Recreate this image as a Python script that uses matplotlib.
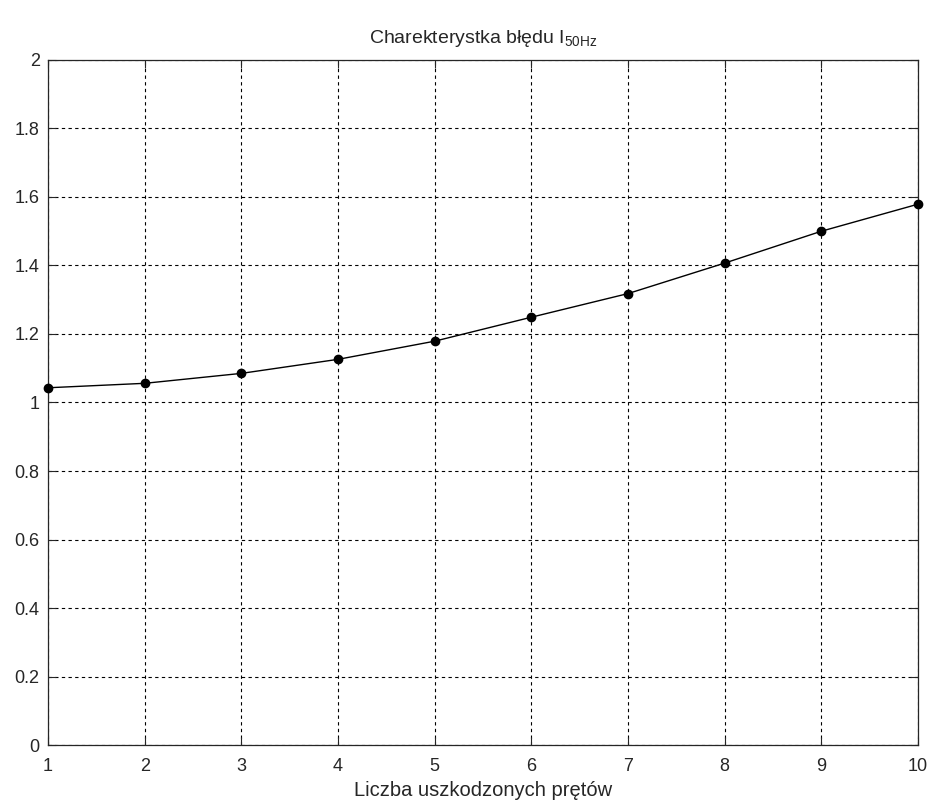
import numpy as np
import matplotlib
matplotlib.use('Agg')
import matplotlib.pyplot as plt

# fault characteristic: number of broken bars vs relative I_50Hz
bars = [1, 2, 3, 4, 5, 6, 7, 8, 9, 10]
i50 = [1.043, 1.056, 1.085, 1.126, 1.179, 1.249, 1.318, 1.407, 1.500, 1.579]
x_ticks = [1, 2, 3, 4, 5, 6, 7, 8, 9, 10]
y_ticks = [0, 0.2, 0.4, 0.6, 0.8, 1, 1.2, 1.4, 1.6, 1.8, 2]
y_labels = ['0', '0.2', '0.4', '0.6', '0.8', '1', '1.2', '1.4', '1.6', '1.8', '2']

def main():
    plt.rcParams['font.family'] = 'Liberation Sans'
    plt.rcParams['mathtext.fontset'] = 'custom'
    plt.rcParams['mathtext.rm'] = 'Liberation Sans'
    plt.rcParams['mathtext.default'] = 'rm'

    fig = plt.figure(figsize=(9.3, 8.05), dpi=100)
    ax = fig.add_axes([0.0516, 0.0745, 0.9355, 0.851])

    ax.plot(bars, i50, color='black', linewidth=1.0, marker='o',
            markersize=6, markerfacecolor='black', markeredgecolor='black',
            clip_on=False, zorder=3)

    ax.set_xlim(1, 10)
    ax.set_ylim(0, 2)
    ax.set_xticks(x_ticks)
    ax.set_yticks(y_ticks)
    ax.set_yticklabels(y_labels)
    ax.tick_params(direction='in', top=True, right=True, length=6,
                   labelsize=13, colors='#262626', width=0.8)
    ax.tick_params(axis='x', pad=9)
    ax.tick_params(axis='y', pad=6)

    ax.grid(True, color='black', linestyle=(0, (3, 3)), linewidth=0.8)
    for s in ax.spines.values():
        s.set_linewidth(0.9)
        s.set_color('#262626')

    ax.set_xlabel('Liczba uszkodzonych prętów', fontsize=14.5, color='#262626', labelpad=5)
    ax.set_title(r'Charekterystka błędu I$_{\mathrm{50Hz}}$', fontsize=14,
                 color='#262626', pad=12)

    plt.savefig('out.png', dpi=100)

if __name__ == "__main__":
    main()
